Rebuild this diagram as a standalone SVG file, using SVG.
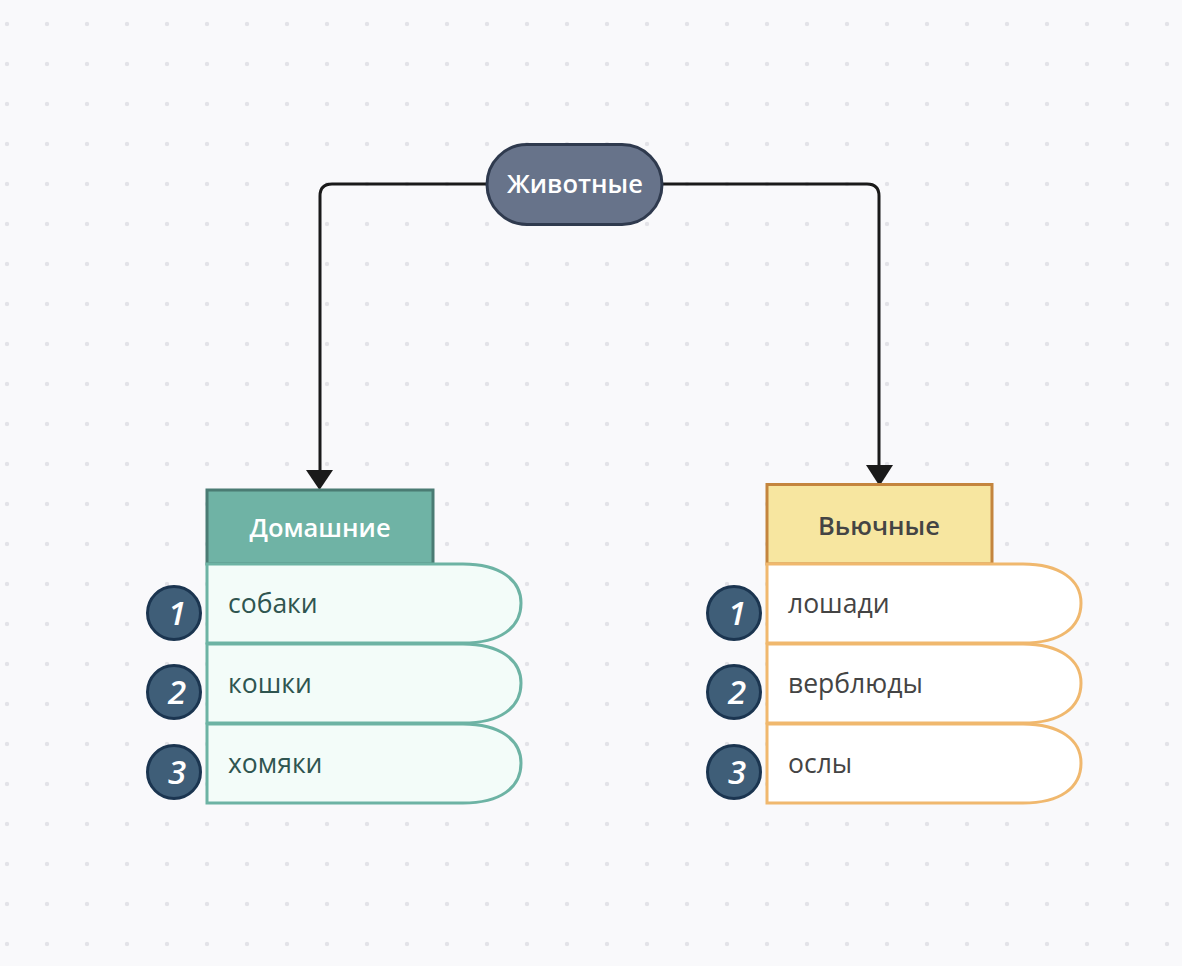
<svg xmlns="http://www.w3.org/2000/svg" width="1182" height="966" viewBox="0 0 1182 966">
<style>
.bg{fill:#f9f9fb}
.dot{fill:#e3e3e8}
.conn{fill:none;stroke:#1a1a1a;stroke-width:3}
.head{fill:#1a1a1a}
.pill{fill:#67738a;stroke:#2f3a4e;stroke-width:3}
.t{font-family:"Open Sans","Noto Sans","DejaVu Sans",sans-serif}
.hdr{font-size:25.5px;font-weight:600;text-anchor:middle}
.row{font-size:26.5px}
.hA{fill:#6fb3a5;stroke:#4a7b73;stroke-width:3}
.rA{fill:#f3fcf9;stroke:#6db3a4;stroke-width:3}
.tA{fill:#2f5550}
.hB{fill:#f7e6a0;stroke:#c4853e;stroke-width:3}
.rB{fill:#ffffff;stroke:#f0b86e;stroke-width:3}
.tB{fill:#444444}
.badge{fill:#3f5e78;stroke:#1b3550;stroke-width:3}
.num{font-size:33px;font-style:italic;font-weight:600;fill:#ffffff;text-anchor:middle}
</style>
<defs>
<pattern id="grid" x="0" y="0" width="40" height="40" patternUnits="userSpaceOnUse">
<circle class="dot" cx="7" cy="24" r="2.2"/>
</pattern>
</defs>
<rect class="bg" x="0" y="0" width="1182" height="966"/>
<rect x="0" y="0" width="1182" height="966" fill="url(#grid)"/>

<g id="connectors">
<path class="conn" d="M487,184 H332 Q320,184 320,196 V472"/>
<polygon class="head" points="306,470 333,470 319.5,490"/>
<path class="conn" d="M662,184 H867 Q879,184 879,196 V467"/>
<polygon class="head" points="866,465 893,465 879.5,486"/>
</g>

<g id="node-zhivotnye">
<rect class="pill" x="487" y="144.5" width="175" height="80" rx="40" ry="40"/>
<text class="t hdr" x="575" y="193" fill="#ffffff">Животные</text>
</g>

<g id="node-domashnie">
<rect class="hA" x="207" y="490" width="226" height="74"/>
<text class="t hdr" x="320" y="537" fill="#ffffff">Домашние</text>
<path class="rA" d="M207,564 H463 C500,564 521,580 521,603 C521,628 500,643 463,643 H207 Z"/>
<path class="rA" d="M207,644 H463 C500,644 521,660 521,683 C521,708 500,723 463,723 H207 Z"/>
<path class="rA" d="M207,724 H463 C500,724 521,740 521,763 C521,788 500,803 463,803 H207 Z"/>
<text class="t row tA" x="228" y="613">собаки</text>
<text class="t row tA" x="228" y="693">кошки</text>
<text class="t row tA" x="228" y="773">хомяки</text>
</g>

<g id="badges-domashnie">
<circle class="badge" cx="174" cy="613" r="26.5"/>
<text class="t num" x="177" y="625">1</text>
<circle class="badge" cx="174" cy="692" r="26.5"/>
<text class="t num" x="177" y="704">2</text>
<circle class="badge" cx="174" cy="772" r="26.5"/>
<text class="t num" x="177" y="784">3</text>
</g>

<g id="node-vyuchnye">
<rect class="hB" x="767" y="484.5" width="225" height="79.5"/>
<text class="t hdr" x="879" y="535" fill="#444444">Вьючные</text>
<path class="rB" d="M767,564 H1023 C1060,564 1081,580 1081,603 C1081,628 1060,643 1023,643 H767 Z"/>
<path class="rB" d="M767,644 H1023 C1060,644 1081,660 1081,683 C1081,708 1060,723 1023,723 H767 Z"/>
<path class="rB" d="M767,724 H1023 C1060,724 1081,740 1081,763 C1081,788 1060,803 1023,803 H767 Z"/>
<text class="t row tB" x="788" y="613">лошади</text>
<text class="t row tB" x="788" y="693">верблюды</text>
<text class="t row tB" x="788" y="773">ослы</text>
</g>

<g id="badges-vyuchnye">
<circle class="badge" cx="734" cy="613" r="26.5"/>
<text class="t num" x="737" y="625">1</text>
<circle class="badge" cx="734" cy="692" r="26.5"/>
<text class="t num" x="737" y="704">2</text>
<circle class="badge" cx="734" cy="772" r="26.5"/>
<text class="t num" x="737" y="784">3</text>
</g>
</svg>
